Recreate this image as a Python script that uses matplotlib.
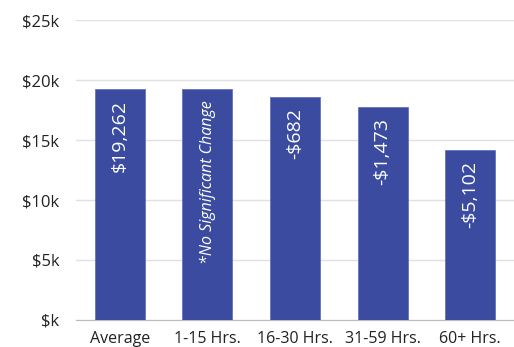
import matplotlib
matplotlib.use("Agg")
import matplotlib.pyplot as plt

categories = ["Average", "1-15 Hrs.", "16-30 Hrs.", "31-59 Hrs.", "60+ Hrs."]
values = [19262, 19262, 18580, 17789, 14160]
labels = ["$19,262", "*No Significant Change", "-$682", "-$1,473", "-$5,102"]
yticks = [0, 5000, 10000, 15000, 20000, 25000]
ytick_labels = ["$k", "$5k", "$10k", "$15k", "$20k", "$25k"]

plt.rcParams["font.family"] = ["Open Sans", "DejaVu Sans"]

fig = plt.figure(figsize=(5.14, 3.47), dpi=100)
ax = fig.add_axes([0.148, 0.078, 0.852, 0.864])
bar_color = "#3A4BA0"
x = range(len(categories))
ax.bar(x, values, width=0.57, color=bar_color, edgecolor="#5A6AB8", linewidth=0.5, zorder=3)
ax.set_xlim(-0.5, 4.5)
ax.set_ylim(0, 25000)
ax.set_yticks(yticks)
ax.set_yticklabels(ytick_labels, fontsize=12, color="#222222")
ax.set_xticks(list(x))
ax.set_xticklabels(categories, fontsize=11.5, color="#222222")
ax.tick_params(axis="y", length=0, pad=12)
ax.tick_params(axis="x", length=0, pad=8)
ax.grid(axis="y", color="#E0E0E0", linewidth=1, zorder=0)
for s in ["top", "right", "left"]:
    ax.spines[s].set_visible(False)
ax.spines["bottom"].set_color("#BBBBBB")

for i, (v, lab) in enumerate(zip(values, labels)):
    italic = lab.startswith("*")
    ax.annotate(lab, (i, v), xytext=(0, -8), textcoords="offset points",
                rotation=90, ha="center", va="top", color="white",
                fontsize=11.5 if italic else 14, style="italic" if italic else "normal",
                zorder=4)

fig.savefig("out.png", dpi=100)
